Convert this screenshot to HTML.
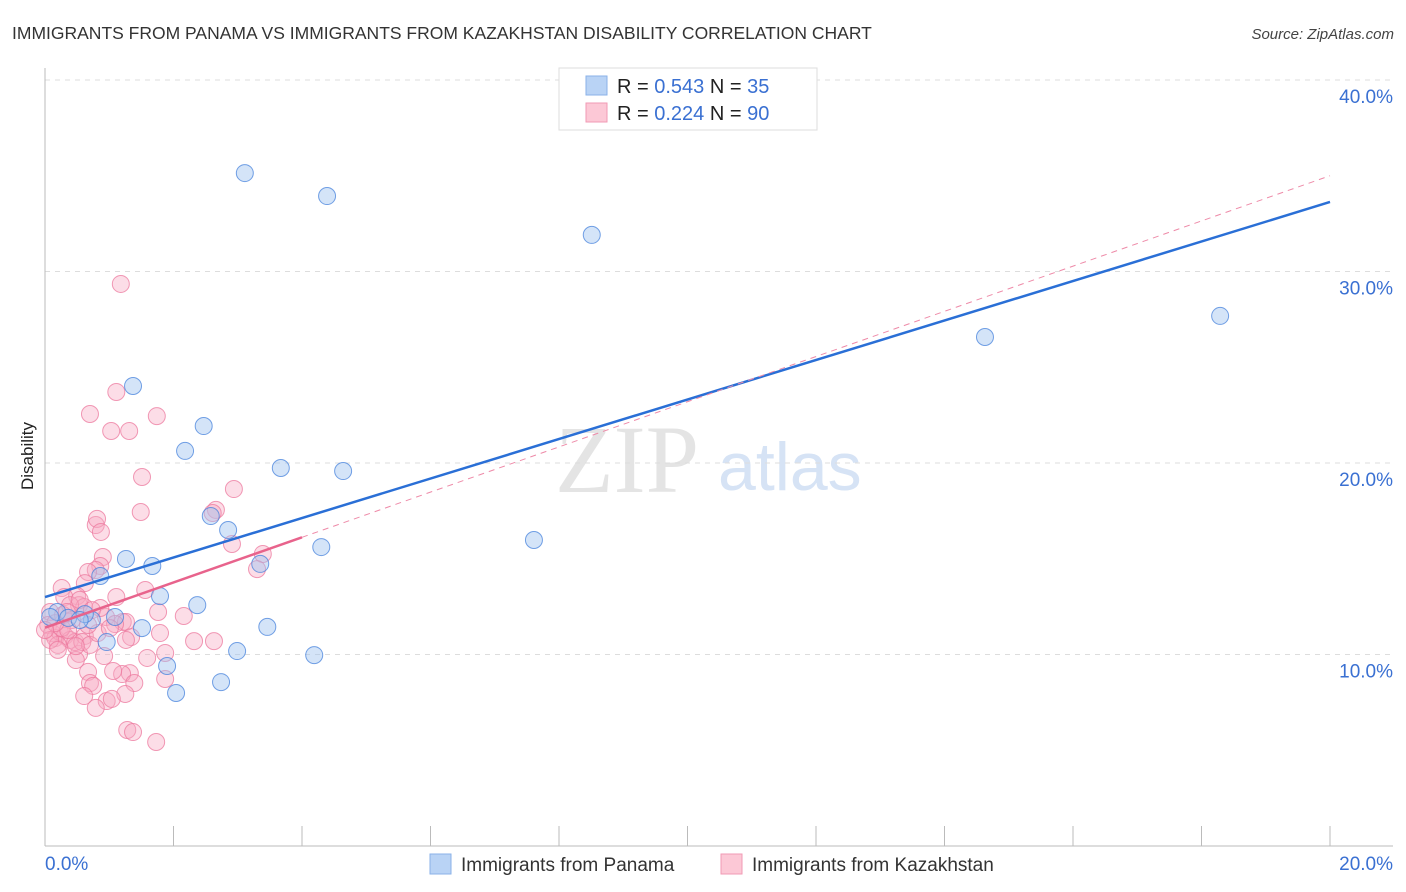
<!DOCTYPE html>
<html><head><meta charset="utf-8"><style>
body{margin:0;background:#fff;font-family:"Liberation Sans",sans-serif;}
svg{display:block}
</style></head><body>
<svg id="chart" width="1406" height="892">
<text x="12" y="39" font-size="17.5" fill="#333">IMMIGRANTS FROM PANAMA VS IMMIGRANTS FROM KAZAKHSTAN DISABILITY CORRELATION CHART</text>
<text x="1394" y="39" font-size="15" fill="#444" font-style="italic" text-anchor="end">Source: ZipAtlas.com</text>
<text x="33" y="456" font-size="17" fill="#222" text-anchor="middle" transform="rotate(-90 33 456)">Disability</text>
<text x="555" y="492" font-size="96" fill="#e4e4e4" font-family="Liberation Serif,serif">ZIP</text>
<text x="718" y="490" font-size="68" fill="#d6e3f5">atlas</text>
<g id="grid"></g><g id="axes"></g><g id="pts"></g><g id="trend"></g>
<g>
<rect x="559" y="68" width="258" height="62" fill="#fff" stroke="#ddd"/>
<rect x="586" y="76" width="21" height="19" fill="#b9d3f5" stroke="#8ab2e8"/>
<rect x="586" y="103" width="21" height="19" fill="#fcc8d6" stroke="#f19ab4"/>
<text x="617" y="93" font-size="20" fill="#222">R = <tspan fill="#3a70d2">0.543</tspan>   N = <tspan fill="#3a70d2"> 35</tspan></text>
<text x="617" y="120" font-size="20" fill="#222">R = <tspan fill="#3a70d2">0.224</tspan>   N = <tspan fill="#3a70d2">90</tspan></text>
</g>
<g>
<rect x="430" y="854" width="21" height="20" fill="#b9d3f5" stroke="#8ab2e8"/>
<text x="461" y="871" font-size="19" fill="#333">Immigrants from Panama</text>
<rect x="721" y="854" width="21" height="20" fill="#fcc8d6" stroke="#f19ab4"/>
<text x="752" y="871" font-size="19" fill="#333">Immigrants from Kazakhstan</text>
</g>
</svg>
<script>
const blueX=[3.11,4.39,8.51,18.29,14.63,1.37,2.47,2.18,3.67,4.64,2.58,2.85,4.30,7.61,1.26,1.67,0.86,3.35,1.79,2.37,0.73,0.19,0.36,1.51,3.46,0.96,2.99,4.19,1.90,2.74,2.04,0.62,0.08,0.54,1.09];
const blueY=[35.14,33.94,31.91,27.68,26.58,24.02,21.93,20.63,19.74,19.58,17.23,16.50,15.61,15.98,14.99,14.62,14.10,14.73,13.05,12.58,11.80,12.22,11.91,11.38,11.44,10.65,10.18,9.97,9.40,8.56,7.99,12.11,11.96,11.80,11.96];
const pinkX=[1.18,1.11,0.70,1.74,1.03,1.31,1.51,2.94,1.49,2.66,2.61,0.79,0.81,0.87,2.91,3.39,0.90,3.30,0.86,0.79,0.67,0.62,0.26,1.56,1.11,0.50,0.30,0.53,0.61,0.39,1.76,2.16,0.95,1.21,1.26,1.79,1.09,1.34,1.26,2.32,2.63,0.92,1.87,1.59,1.87,1.32,1.20,1.06,0.67,0.70,0.75,1.39,1.25,0.61,0.96,1.04,0.79,1.28,1.37,1.73,0.53,0.48,0.08,0.05,0.11,0.16,0.23,0.31,0.39,0.47,0.20,0.08,0.28,0.42,0.26,0.36,0.62,0.58,0.70,0.48,0.16,0.00,0.54,0.86,0.73,0.82,0.34,0.67,0.20,1.01];
const pinkY=[29.35,23.71,22.56,22.45,21.67,21.67,19.27,18.64,17.44,17.55,17.39,16.76,17.08,16.40,15.77,15.25,15.09,14.46,14.62,14.41,14.31,13.73,13.47,13.37,13.00,13.05,13.00,12.58,12.48,12.58,12.22,12.01,11.96,11.70,11.70,11.12,11.59,10.91,10.76,10.70,10.70,9.92,10.08,9.82,8.72,9.03,8.98,9.14,9.09,8.51,8.36,8.51,7.94,7.83,7.57,7.68,7.21,6.06,5.95,5.43,10.03,9.71,12.22,11.54,11.12,10.86,11.18,10.97,10.76,10.65,10.50,10.76,12.06,11.80,11.38,11.28,10.97,10.65,10.50,10.44,11.64,11.28,12.85,12.43,12.32,11.12,12.22,11.54,10.24,11.38];
const yTicks=[10,20,30,40];
const yTickLabels=["10.0%","20.0%","30.0%","40.0%"];
const xEndLabels=["0.0%","20.0%"];
const blueTrend=[13.0,33.63];
const pinkTrend=[11.4,1.18];
const NS="http://www.w3.org/2000/svg";
const sx=v=>45+v*64.25, sy=v=>846-v*19.15;
function mk(g,t,a){const e=document.createElementNS(NS,t);for(const k in a)e.setAttribute(k,a[k]);document.getElementById(g).appendChild(e);return e;}
yTicks.forEach((t,i)=>{
 const l=mk('grid','line',{x1:45,x2:1393,y1:sy(t),y2:sy(t),stroke:'#ddd','stroke-dasharray':'5,5'});
 
 
 const tx=mk('grid','text',{x:1393,y:sy(t)+23,'font-size':19,fill:'#3a70d2','text-anchor':'end'});
 tx.textContent=yTickLabels[i];
 
 
});
mk('axes','line',{x1:45,x2:45,y1:68,y2:846,stroke:'#bbb'});
mk('axes','line',{x1:45,x2:1393,y1:846,y2:846,stroke:'#bbb'});
for(let v=2;v<=20;v+=2){const t=mk('axes','line',{x1:sx(v),x2:sx(v),y1:826,y2:846,stroke:'#bbb'});
 
 }
const l0=mk('axes','text',{x:45,y:870,'font-size':19,fill:'#3a70d2'});l0.textContent=xEndLabels[0];


const l1=mk('axes','text',{x:1393,y:870,'font-size':19,fill:'#3a70d2','text-anchor':'end'});l1.textContent=xEndLabels[1];


pinkX.forEach((x,i)=>{const c=mk('pts','circle',{cx:sx(x),cy:sy(pinkY[i]),r:8.5,fill:'rgba(248,170,195,0.4)',stroke:'rgba(236,120,158,0.75)','stroke-width':1});
 
 });
blueX.forEach((x,i)=>{const c=mk('pts','circle',{cx:sx(x),cy:sy(blueY[i]),r:8.5,fill:'rgba(160,195,240,0.45)',stroke:'rgba(70,130,220,0.75)','stroke-width':1});
 
 });
const bt=mk('trend','line',{x1:sx(0),y1:sy(blueTrend[0]),x2:sx(20),y2:sy(blueTrend[1]),stroke:'#2a6fd6','stroke-width':2.5});


const pd=mk('trend','line',{x1:sx(4),y1:sy(pinkTrend[0]+pinkTrend[1]*4),x2:sx(20),y2:sy(pinkTrend[0]+pinkTrend[1]*20),stroke:'#ee8aa8','stroke-width':1,'stroke-dasharray':'6,5'});


const pt=mk('trend','line',{x1:sx(0),y1:sy(pinkTrend[0]),x2:sx(4),y2:sy(pinkTrend[0]+pinkTrend[1]*4),stroke:'#e8638c','stroke-width':2.5});


</script>
</body></html>
